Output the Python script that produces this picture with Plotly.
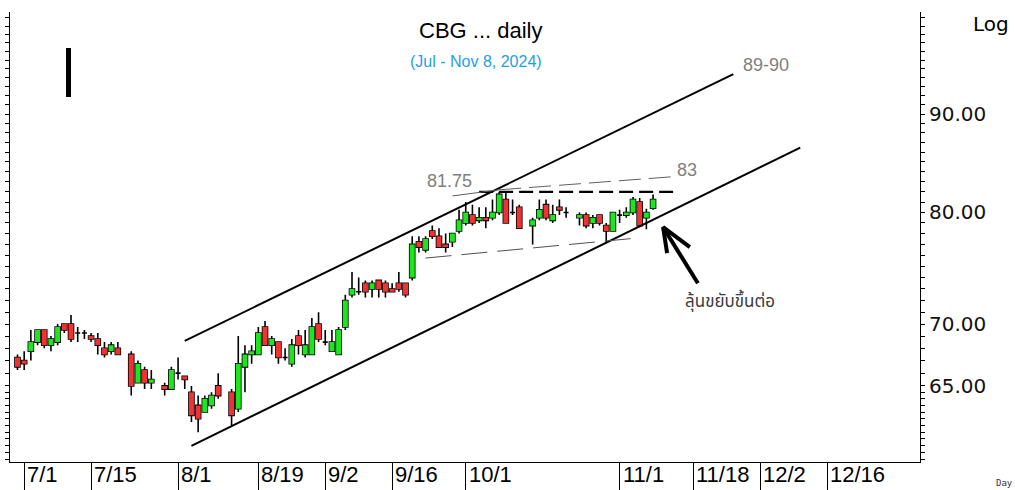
import numpy as np
import pandas as pd
import plotly.graph_objects as go

# ---------------- data ----------------
CAL_START = "2024-06-28"
CAL_END = "2025-01-31"
HOLIDAYS = ["2024-07-22", "2024-07-29", "2024-08-12", "2024-10-14", "2024-10-23"]

OPEN = [67.25, 67.0, 67.75, 68.5, 69.5, 68.25, 68.5, 70.0, 70.0, 69.25,
        69.25, 69.0, 68.75, 68.0, 67.75, 68.0, 67.5, 65.25, 66.25, 65.25,
        65.0, 64.75, 66.0, 65.75, 64.5, 63.5, 63.0, 63.5, 65.0, 64.5,
        63.25, 66.5, 67.5, 67.5, 69.75, 68.25, 68.5, 67.25, 66.75, 69.0,
        67.5, 67.5, 70.0, 68.5, 67.75, 67.5, 69.75, 72.5, 72.75, 73.5,
        73.0, 73.75, 73.5, 73.0, 73.5, 73.5, 74.0, 77.25, 76.5, 78.25,
        77.75, 77.0, 77.25, 78.25, 79.0, 79.75, 79.25, 79.5, 79.5, 80.0,
        81.25, 80.0, 80.5, 78.75, 79.5, 80.75, 79.25, 80.5, 80.0, 79.5,
        79.75, 79.0, 79.75, 78.75, 78.25, 79.75, 79.75, 80.0, 81.0, 79.5,
        80.4]
HIGH = [67.5, 67.75, 69.5, 69.5, 69.5, 69.0, 70.0, 70.0, 70.75, 69.75,
        69.5, 69.25, 69.25, 68.5, 68.5, 68.5, 67.75, 67.0, 66.5, 66.25,
        65.25, 66.5, 67.25, 65.75, 65.0, 64.25, 64.25, 64.5, 66.0, 64.75,
        69.0, 68.25, 68.25, 69.75, 70.25, 69.0, 68.5, 68.0, 68.75, 69.5,
        69.5, 70.5, 71.0, 69.5, 69.5, 69.75, 72.5, 74.5, 74.0, 73.75,
        73.75, 73.75, 73.75, 73.5, 74.5, 73.5, 77.75, 77.75, 77.75, 78.75,
        78.5, 78.0, 78.0, 80.25, 81.0, 80.75, 80.5, 80.5, 81.25, 82.0,
        82.0, 81.25, 80.75, 79.5, 81.25, 81.25, 80.75, 81.25, 80.5, 80.0,
        80.0, 79.75, 79.75, 79.0, 80.0, 80.25, 80.5, 81.5, 81.4, 80.35,
        81.75]
LOW = [66.25, 66.25, 67.0, 68.25, 68.0, 67.75, 68.25, 69.25, 68.5, 68.5,
       68.75, 68.5, 67.5, 67.25, 67.5, 67.5, 64.25, 65.25, 64.75, 64.75,
       64.25, 64.75, 65.5, 64.75, 62.25, 61.5, 63.0, 63.25, 64.0, 62.0,
       63.0, 64.5, 66.75, 67.5, 68.25, 67.5, 66.75, 67.0, 66.5, 67.5,
       67.25, 67.5, 68.5, 68.25, 67.75, 67.5, 69.5, 72.25, 72.5, 72.25,
       72.25, 72.25, 72.25, 72.75, 72.75, 72.25, 73.75, 76.25, 76.25, 77.5,
       76.75, 76.25, 76.75, 78.0, 78.75, 78.75, 79.0, 78.5, 79.25, 79.75,
       79.0, 79.75, 78.5, 77.0, 79.25, 79.25, 79.0, 79.75, 79.5, 78.75,
       78.5, 78.5, 78.75, 77.25, 78.25, 79.0, 79.5, 79.75, 78.6, 78.4,
       80.25]
CLOSE = [66.5, 66.75, 68.5, 69.5, 68.25, 68.75, 69.75, 69.5, 68.75, 69.25,
         69.25, 68.75, 68.25, 67.5, 68.25, 67.5, 65.0, 66.75, 65.25, 65.5,
         64.75, 66.25, 66.0, 65.5, 62.75, 62.5, 64.0, 64.25, 64.25, 62.75,
         66.75, 67.5, 67.75, 69.25, 68.25, 68.75, 67.25, 67.25, 68.25, 68.25,
         68.25, 69.75, 68.75, 68.5, 68.5, 69.5, 72.0, 73.0, 72.75, 72.75,
         73.5, 73.0, 72.75, 72.75, 73.0, 72.5, 77.0, 76.75, 77.5, 77.75,
         76.75, 76.75, 78.0, 79.25, 80.0, 79.0, 79.5, 79.25, 80.0, 81.75,
         79.0, 80.0, 78.5, 79.25, 80.25, 79.5, 79.75, 80.25, 80.0, 79.75,
         78.75, 79.5, 79.0, 78.25, 80.0, 79.75, 80.0, 81.25, 78.75, 80.0,
         81.25]

LABEL_DATES = ["2024-07-01", "2024-07-15", "2024-08-01", "2024-08-19", "2024-09-02",
               "2024-09-16", "2024-10-01", "2024-11-01", "2024-11-18", "2024-12-02",
               "2024-12-16"]
LABEL_TEXT = ["7/1", "7/15", "8/1", "8/19", "9/2", "9/16", "10/1", "11/1", "11/18",
              "12/2", "12/16"]

Y_TICKS = [65, 70, 80, 90]
Y_TICKTEXT = ["65.00", "70.00", "80.00", "90.00"]

# drawn study lines: (date, price) endpoints
UPPER_CHANNEL = [("2024-08-02", 68.6), ("2024-11-26", 94.4)]
LOWER_CHANNEL = [("2024-08-05", 60.5), ("2024-12-10", 86.45)]
RESIST_DASH = [("2024-10-03", 82.0), ("2024-11-13", 82.0)]
TARGET_DASH = [("2024-10-08", 82.2), ("2024-11-13", 83.5)]
LOWER_DASH = [("2024-09-23", 75.75), ("2024-11-05", 77.55)]
LEADER = [("2024-09-27", 81.6), ("2024-10-08", 82.2)]

GREEN = "#1ee61e"
RED = "#f03232"

# ---------------- build ----------------
calendar = pd.bdate_range(CAL_START, CAL_END)
cal_index = {d.strftime("%Y-%m-%d"): i for i, d in enumerate(calendar)}
trade_dates = [d for d in cal_index if d not in HOLIDAYS][:len(OPEN)]
X = [cal_index[d] for d in trade_dates]


def xi(d):
    return cal_index[d]


body_hi = [max(o, c) for o, c in zip(OPEN, CLOSE)]
body_lo = [min(o, c) for o, c in zip(OPEN, CLOSE)]

fig = go.Figure()
# wicks + dark outline
fig.add_trace(go.Candlestick(
    x=X, open=OPEN, high=HIGH, low=LOW, close=CLOSE,
    increasing=dict(line=dict(color="black", width=1.6), fillcolor="black"),
    decreasing=dict(line=dict(color="black", width=1.6), fillcolor="black"),
    whiskerwidth=0, showlegend=False, hoverinfo="skip"))
# coloured bodies
fig.add_trace(go.Candlestick(
    x=X, open=OPEN, high=body_hi, low=body_lo, close=CLOSE,
    increasing=dict(line=dict(color=GREEN, width=0), fillcolor=GREEN),
    decreasing=dict(line=dict(color=RED, width=0), fillcolor=RED),
    whiskerwidth=0, showlegend=False, hoverinfo="skip"))


def add_line(pts, color="black", width=2, dash="solid"):
    fig.add_trace(go.Scatter(
        x=[xi(d) for d, _ in pts], y=[p for _, p in pts], mode="lines",
        line=dict(color=color, width=width, dash=dash),
        showlegend=False, hoverinfo="skip"))


add_line(UPPER_CHANNEL, width=2)
add_line(LOWER_CHANNEL, width=2)
add_line(RESIST_DASH, width=2.2, dash="14px,6px")
add_line(TARGET_DASH, color="#606060", width=1, dash="22px,8px")
add_line(LOWER_DASH, color="#505050", width=1, dash="26px,10px")
add_line(LEADER, color="#606060", width=1)

# arrow (open chevron head)
ARROW_TIP = (96.5, 78.6)
ARROW_TAIL = (101.7, 73.5)
ARROW_ARMS = [(97.1, 76.2), (100.5, 76.75)]
fig.add_trace(go.Scatter(
    x=[ARROW_TAIL[0], ARROW_TIP[0], None, ARROW_ARMS[0][0], ARROW_TIP[0], ARROW_ARMS[1][0]],
    y=[ARROW_TAIL[1], ARROW_TIP[1], None, ARROW_ARMS[0][1], ARROW_TIP[1], ARROW_ARMS[1][1]],
    mode="lines", line=dict(color="black", width=4), showlegend=False, hoverinfo="skip"))

GREY_FONT = dict(family="Liberation Sans, Arial, sans-serif", size=18, color="#808080")
ann = []
for txt, xv, pv in [("81.75", 64.5, 83.1), ("83", 100.1, 84.2), ("89-90", 111.9, 95.5)]:
    ann.append(dict(x=xv, y=np.log10(pv), xref="x", yref="y", text=txt,
                    xanchor="center", yanchor="middle", showarrow=False, font=GREY_FONT))
ann.append(dict(x=106.5, y=np.log10(71.9), xref="x", yref="y", text="ลุ้นขยับขึ้นต่อ",
                xanchor="center", yanchor="middle", showarrow=False,
                font=dict(family="Tahoma, Noto Sans Thai, sans-serif", size=17, color="#3c3c3c")))

# title
ann.append(dict(x=0.5165, y=0.958, xref="paper", yref="paper", text="CBG ... daily",
                xanchor="center", yanchor="middle", showarrow=False,
                font=dict(family="Liberation Sans, Arial", size=22, color="black")))
ann.append(dict(x=0.5125, y=0.889, xref="paper", yref="paper", text="(Jul - Nov 8, 2024)",
                xanchor="center", yanchor="middle", showarrow=False,
                font=dict(family="Liberation Sans, Arial", size=16, color="#1ea0e8")))
ann.append(dict(x=1.1, y=0.973, xref="paper", yref="paper", text="Log",
                xanchor="right", yanchor="middle", showarrow=False,
                font=dict(family="DejaVu Sans", size=20, color="black")))
ann.append(dict(x=1.093, y=-0.047, xref="paper", yref="paper", text="Day",
                xanchor="center", yanchor="middle", showarrow=False,
                font=dict(family="DejaVu Sans Mono", size=9, color="#333333")))

# x labels, left aligned next to separators
for d, t in zip(LABEL_DATES, LABEL_TEXT):
    ann.append(dict(x=xi(d), y=0, xref="x", yref="paper", text=t, xanchor="left",
                    yanchor="top", xshift=1, yshift=2, showarrow=False,
                    font=dict(family="Liberation Sans Narrow, Arial Narrow, Liberation Sans",
                              size=22, color="black")))

fig.update_layout(
    width=1015, height=490,
    margin=dict(l=10, r=95, t=12, b=28, autoexpand=False),
    paper_bgcolor="white", plot_bgcolor="white",
    showlegend=False, boxgap=0.25, boxgroupgap=0,
    annotations=ann,
    shapes=[dict(type="rect", xref="paper", yref="paper",
                 x0=(66 - 10) / 910, x1=(71 - 10) / 910,
                 y0=(462 - 97) / 450, y1=(462 - 48) / 450,
                 fillcolor="black", line=dict(width=0))],
)
fig.update_xaxes(
    range=[-1.12, 134.9], rangeslider=dict(visible=False), automargin=False,
    showgrid=False, zeroline=False, showline=True, linecolor="black", linewidth=1,
    tickmode="array", tickvals=[xi(d) for d in LABEL_DATES], ticktext=[""] * len(LABEL_DATES),
    showticklabels=False, ticks="outside", ticklen=28, tickcolor="black", tickwidth=1,
)
minor_vals = list(np.arange(59.5, 65, 0.5)) + list(np.arange(65, 102, 1.0))
fig.update_yaxes(
    type="log", side="right", range=[np.log10(59.34), np.log10(101.7)], automargin=False,
    showgrid=False, zeroline=False, showline=True, linecolor="black", linewidth=1,
    mirror="ticks",
    tickmode="array", tickvals=Y_TICKS, ticktext=Y_TICKTEXT,
    ticks="outside", ticklen=4, tickcolor="black",
    tickfont=dict(family="DejaVu Sans", size=20, color="#111111"),
    minor=dict(tickmode="array", tickvals=minor_vals, ticks="outside", ticklen=4,
               tickcolor="black", showgrid=False),
)

fig.write_html("out.html", config={"displayModeBar": False},
               post_script="document.body.style.margin='0px';")
